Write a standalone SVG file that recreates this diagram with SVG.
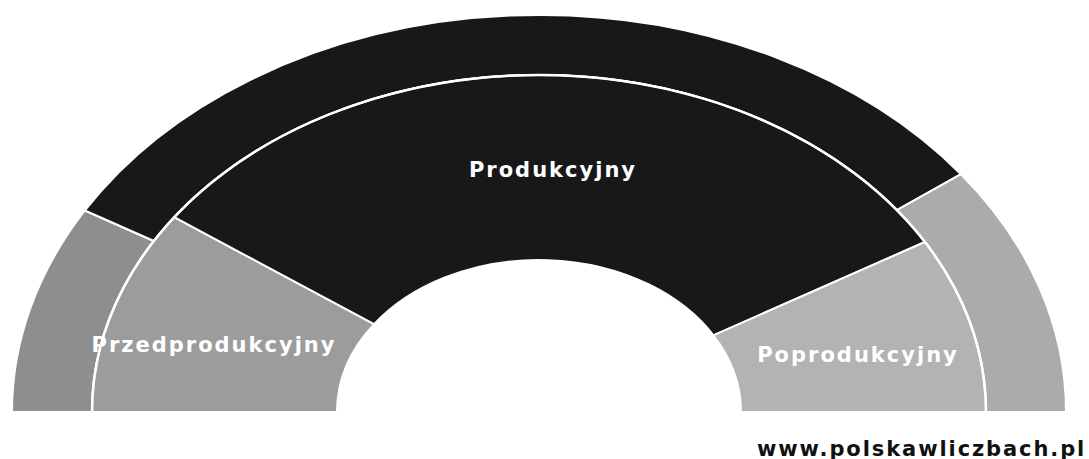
<svg xmlns="http://www.w3.org/2000/svg" width="1089" height="459" viewBox="0 0 1089 459">
  <style>
    .seg { stroke: #ffffff; stroke-width: 2; stroke-linejoin: round; }
    .dark { fill: #181818; }
    .gl-out { fill: #8e8e8e; }
    .gl-in { fill: #9c9c9c; }
    .gr-out { fill: #ababab; }
    .gr-in { fill: #b3b3b3; }
    .lbl { font-family: "DejaVu Sans", Verdana, sans-serif; font-weight: bold; font-size: 21px; letter-spacing: 2px; fill: #ffffff; text-anchor: middle; }
    .url { font-family: "DejaVu Sans", Verdana, sans-serif; font-weight: bold; font-size: 21px; letter-spacing: 1.9px; fill: #111111; }
  </style>
  <rect width="1089" height="459" fill="#ffffff"/>
  <g id="przedprodukcyjny">
    <path class="seg gl-out" d="M 12 412 A 527 397 0 0 1 84.9 210.5 L 153.9 241 A 447 337 0 0 0 92 412 Z"/>
    <path class="seg gl-in" d="M 92 412 A 447 337 0 0 1 174.2 217.2 L 374.1 324.2 A 202 152 0 0 0 337 412 Z"/>
    <text class="lbl" x="214" y="352">Przedprodukcyjny</text>
  </g>
  <g id="produkcyjny">
    <path class="seg dark" d="M 84.9 210.5 A 527 397 0 0 1 961 174.2 L 896.9 210.1 A 447 337 0 0 0 153.9 241 Z"/>
    <path class="seg dark" d="M 174.2 217.2 A 447 337 0 0 1 924.9 242 L 713.4 335.3 A 202 152 0 0 0 374.1 324.2 Z"/>
    <text class="lbl" x="553" y="177">Produkcyjny</text>
  </g>
  <g id="poprodukcyjny">
    <path class="seg gr-out" d="M 961 174.2 A 527 397 0 0 1 1066 412 L 986 412 A 447 337 0 0 0 896.9 210.1 Z"/>
    <path class="seg gr-in" d="M 924.9 242 A 447 337 0 0 1 986 412 L 741 412 A 202 152 0 0 0 713.4 335.3 Z"/>
    <text class="lbl" x="858" y="362">Poprodukcyjny</text>
  </g>
  <g id="connectors">
    <path d="M 92 412 A 447 337 0 0 1 986 412" fill="none" stroke="#ffffff" stroke-width="2.5"/>
  </g>
  <g id="source">
    <text class="url" x="757" y="456">www.polskawliczbach.pl</text>
  </g>
</svg>
